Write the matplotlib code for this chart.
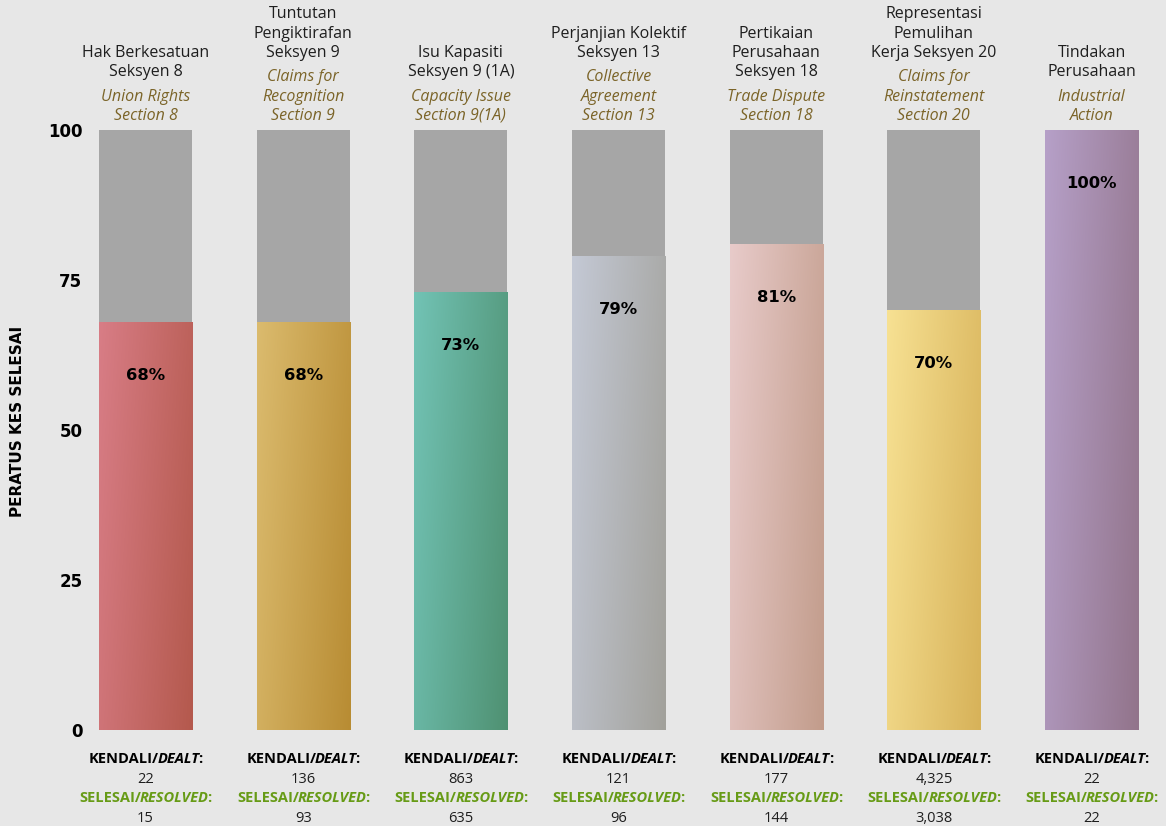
import numpy as np
import matplotlib
matplotlib.use("Agg")
import matplotlib.pyplot as plt
from matplotlib.colors import to_rgb
from matplotlib.offsetbox import TextArea, HPacker, VPacker, AnnotationBbox

plt.rcParams["font.family"] = ["Open Sans", "DejaVu Sans"]

# --- data -----------------------------------------------------------------
titles_ms = [
    "Hak Berkesatuan\nSeksyen 8",
    "Tuntutan\nPengiktirafan\nSeksyen 9",
    "Isu Kapasiti\nSeksyen 9 (1A)",
    "Perjanjian Kolektif\nSeksyen 13",
    "Pertikaian\nPerusahaan\nSeksyen 18",
    "Representasi\nPemulihan\nKerja Seksyen 20",
    "Tindakan\nPerusahaan",
]
titles_en = [
    "Union Rights\nSection 8",
    "Claims for\nRecognition\nSection 9",
    "Capacity Issue\nSection 9(1A)",
    "Collective\nAgreement\nSection 13",
    "Trade Dispute\nSection 18",
    "Claims for\nReinstatement\nSection 20",
    "Industrial\nAction",
]
resolved_pct = [68, 68, 73, 79, 81, 70, 100]
dealt = ["22", "136", "863", "121", "177", "4,325", "22"]
resolved = ["15", "93", "635", "96", "144", "3,038", "22"]

grad_light = ["#d87d86", "#dbbb6e", "#72c3b5", "#c4c9d5", "#e8cbca", "#f7e193", "#b6a0c8"]
grad_dark = ["#b4594d", "#b88c33", "#4f9172", "#a2a19b", "#c29c8b", "#d7b259", "#92748b"]

BG = "#e7e7e7"
GREY = "#a6a6a6"
OLIVE = "#7b6428"
GREEN = "#679b16"
TXT = "#1e1e1e"
WIDE = "DejaVu Sans"


def gradient_bar(ax, x, height, width, light, dark):
    # horizontal gradient with a slight diagonal tilt (darker bottom right)
    nx, ny = 60, 120
    xx, yy = np.meshgrid(np.linspace(0, 1, nx), np.linspace(0, 1, ny))
    t = 0.75 * xx + 0.25 * yy
    c0 = np.array(to_rgb(light))
    c1 = np.array(to_rgb(dark))
    img = c0[None, None, :] * (1 - t[..., None]) + c1[None, None, :] * t[..., None]
    ax.imshow(img, extent=(x - width / 2, x + width / 2, 0, height),
              origin="upper", aspect="auto", interpolation="bilinear", zorder=2)


def rich_line(parts, color, size):
    kids = []
    for text, style in parts:
        kids.append(TextArea(text, textprops=dict(fontsize=size, fontweight="bold",
                                                  fontstyle=style, color=color)))
    return HPacker(children=kids, align="baseline", pad=0, sep=-1)


fig = plt.figure(figsize=(11.66, 8.26), dpi=100, facecolor=BG)
ax = fig.add_axes([95 / 1166, 96 / 826, 1047 / 1166, 600 / 826])
ax.set_facecolor(BG)

x = np.arange(len(resolved_pct))
width = 0.59

ax.bar(x, [100 - p for p in resolved_pct], bottom=resolved_pct, width=width,
       color=GREY, zorder=1)
for i, p in enumerate(resolved_pct):
    gradient_bar(ax, i, p, width, grad_light[i], grad_dark[i])
    ax.text(i, p - 9, f"{p}%", ha="center", va="center", fontsize=11.8,
            fontweight="bold", family=WIDE, color="black", zorder=3)

ax.set_xlim(-0.32, len(x) - 1 + 0.32)
ax.set_ylim(0, 100)
ax.set_xticks([])
ax.set_yticks([0, 25, 50, 75, 100])
ax.tick_params(axis="y", length=0, pad=9, labelsize=12)
for lbl in ax.get_yticklabels():
    lbl.set_fontweight("bold")
    lbl.set_family(WIDE)
for s in ax.spines.values():
    s.set_visible(False)

fig.text(18 / 1166, 1 - 421 / 826, "PERATUS KES SELESAI", rotation=90,
         ha="center", va="center", fontsize=11, fontweight="bold",
         family=WIDE, color="black")

# category headers above the bars
for i in range(len(x)):
    ms = TextArea(titles_ms[i], textprops=dict(fontsize=11.5, color=TXT,
                                               multialignment="center", linespacing=1.28))
    en = TextArea(titles_en[i], textprops=dict(fontsize=11.5, color=OLIVE, fontstyle="italic",
                                               multialignment="center", linespacing=1.28))
    box = VPacker(children=[ms, en], align="center", pad=0, sep=6)
    ab = AnnotationBbox(box, (i, 101), xycoords="data", box_alignment=(0.5, 0),
                        frameon=False, annotation_clip=False)
    ax.add_artist(ab)

# dealt / resolved counts below the bars
row_y = [-4.83, -8.17, -11.33, -14.67]
for i in range(len(x)):
    rows = [
        rich_line([("KENDALI/", "normal"), ("DEALT", "italic"), (":", "normal")], "black", 10.5),
        TextArea(dealt[i], textprops=dict(fontsize=10.5, color=TXT)),
        rich_line([("SELESAI/", "normal"), ("RESOLVED", "italic"), (":", "normal")], GREEN, 10.5),
        TextArea(resolved[i], textprops=dict(fontsize=10.5, color=TXT)),
    ]
    for y, r in zip(row_y, rows):
        ab = AnnotationBbox(r, (i, y), xycoords="data", box_alignment=(0.5, 0.5),
                            frameon=False, annotation_clip=False)
        ax.add_artist(ab)

fig.savefig("out.png", dpi=100, facecolor=BG)
